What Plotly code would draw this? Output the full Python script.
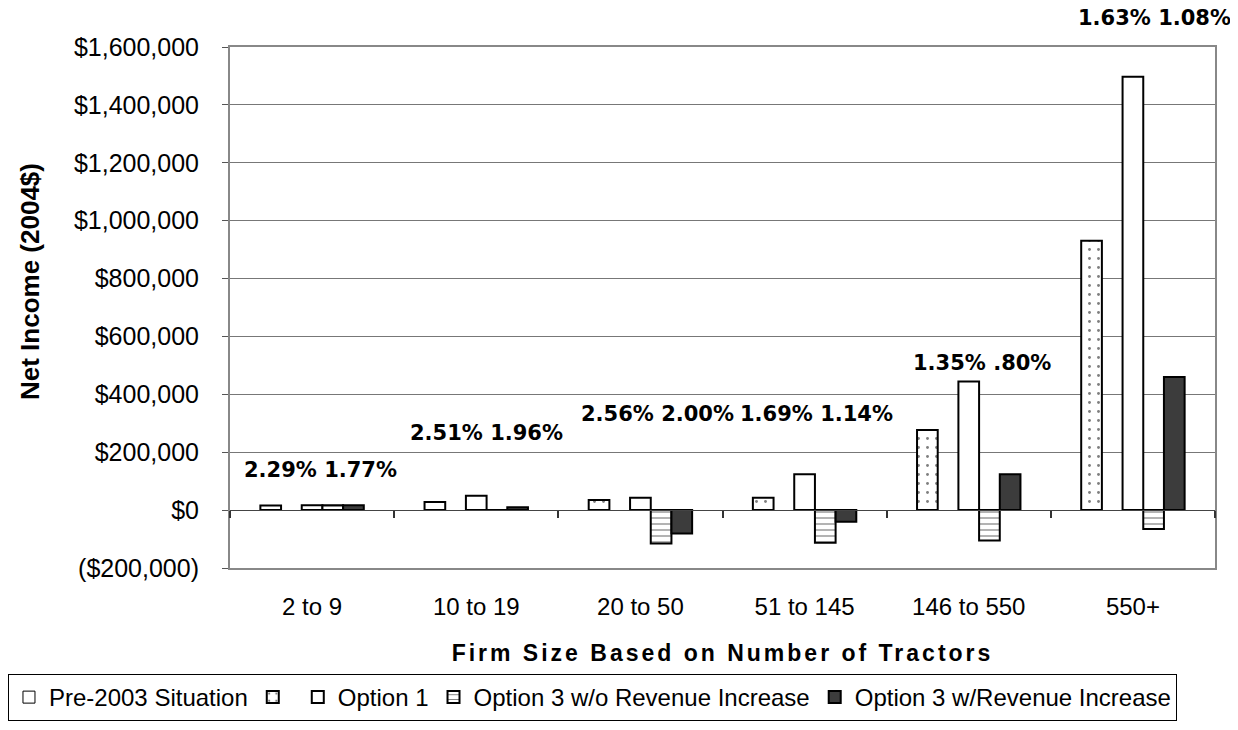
import plotly.graph_objects as go

categories = ["2 to 9", "10 to 19", "20 to 50", "51 to 145", "146 to 550", "550+"]
pre2003 = [16000, 28000, 35000, 43000, 277000, 931000]
option1 = [17000, 50000, 43000, 124000, 444000, 1497000]
opt3_wo = [17000, 0, -115000, -113000, -105000, -65000]
opt3_w = [17000, 10000, -81000, -40000, 124000, 460000]
pct_labels = ["2.29% 1.77%", "2.51% 1.96%", "2.56% 2.00%", "1.69% 1.14%", "1.35% .80%", "1.63% 1.08%"]
pct_label_y = [138000, 267000, 332000, 332000, 509000, 1700000]
y_range = [-200000, 1600000]
y_ticks = [-200000, 0, 200000, 400000, 600000, 800000, 1000000, 1200000, 1400000, 1600000]
y_tick_text = ["($200,000)", "$0", "$200,000", "$400,000", "$600,000", "$800,000",
               "$1,000,000", "$1,200,000", "$1,400,000", "$1,600,000"]

# pixel nudges for the percentage labels (layout only)
label_xshift = [8, 10, 17, 12, 13, 22]

FONT = "Liberation Sans, Arial, sans-serif"
WIDE = "DejaVu Sans, sans-serif"
line = dict(color="black", width=2)

fig = go.Figure()
fig.add_trace(go.Bar(x=categories, y=pre2003, name="", legendrank=2,
                     marker=dict(color="white", line=line,
                                 pattern=dict(shape=".", fgcolor="black", bgcolor="white",
                                              size=9, solidity=0.08))))
fig.add_trace(go.Bar(x=categories, y=[None] * len(categories), name="Pre-2003 Situation",
                     legendrank=1, marker=dict(color="white", line=dict(color="black", width=1))))
fig.add_trace(go.Bar(x=categories, y=option1, name="Option 1", legendrank=3,
                     marker=dict(color="white", line=line)))
fig.add_trace(go.Bar(x=categories, y=opt3_wo, name="Option 3 w/o Revenue Increase", legendrank=4,
                     marker=dict(color="white", line=line,
                                 pattern=dict(shape="-", fgcolor="black", bgcolor="white",
                                              size=6, solidity=0.2))))
fig.add_trace(go.Bar(x=categories, y=opt3_w, name="Option 3 w/Revenue Increase", legendrank=5,
                     marker=dict(color="#3c3c3c", line=line)))
fig.add_trace(go.Scatter(x=categories, y=[None] * len(categories), xaxis="x2",
                         showlegend=False, hoverinfo="skip"))

span = y_range[1] - y_range[0]
for txt, cat, yv, xs in zip(pct_labels, categories, pct_label_y, label_xshift):
    fig.add_annotation(x=cat, xref="x", yref="paper", y=(yv - y_range[0]) / span,
                       xshift=xs, text=f"<b>{txt}</b>", showarrow=False,
                       xanchor="center", yanchor="middle",
                       font=dict(family=WIDE, size=21, color="black"))

fig.add_annotation(xref="paper", yref="paper", x=-0.203, y=0.549, textangle=-90,
                   xanchor="center", yanchor="middle",
                   text="<b>Net Income (2004$)</b>", showarrow=False,
                   font=dict(family=FONT, size=26, color="black"))

x_range = [-0.5, len(categories) - 0.5]

fig.update_layout(
    width=1230, height=722,
    margin=dict(l=222, r=23, t=39, b=162, autoexpand=False),
    paper_bgcolor="white", plot_bgcolor="white",
    barmode="group", bargap=0.37, bargroupgap=0,
    font=dict(family=FONT, size=19, color="black"),
    xaxis=dict(type="category", range=x_range, autorange=False,
               showline=True, mirror=True, linecolor="#888", linewidth=2,
               ticks="", ticklabelstandoff=16, tickfont=dict(size=24), automargin=False,
               title=dict(text='<b><span style="letter-spacing:3px">Firm Size Based on Number of Tractors</span></b>',
                          font=dict(size=23), standoff=26)),
    xaxis2=dict(type="category", overlaying="x", matches="x", anchor="free", position=0.1111,
                side="bottom", showline=True, linecolor="#444", linewidth=1, ticks="outside",
                ticklen=7, tickwidth=1.5, tickcolor="#333", tickson="boundaries",
                showticklabels=False, showgrid=False, zeroline=False),
    yaxis=dict(range=y_range, tickvals=y_ticks, ticktext=y_tick_text,
               showgrid=True, gridcolor="#777", gridwidth=1, zeroline=False,
               showline=True, mirror=True, linecolor="#888", linewidth=2, automargin=False,
               ticks="outside", ticklen=6, tickcolor="#555", tickfont=dict(size=25),
               ticklabelstandoff=18),
    legend=dict(orientation="h", x=-0.2254, y=-0.2035,
                xanchor="left", yanchor="top",
                bordercolor="black", borderwidth=1, font=dict(size=24),
                itemwidth=30, traceorder="normal"),
)

fig.write_html("out.html")
